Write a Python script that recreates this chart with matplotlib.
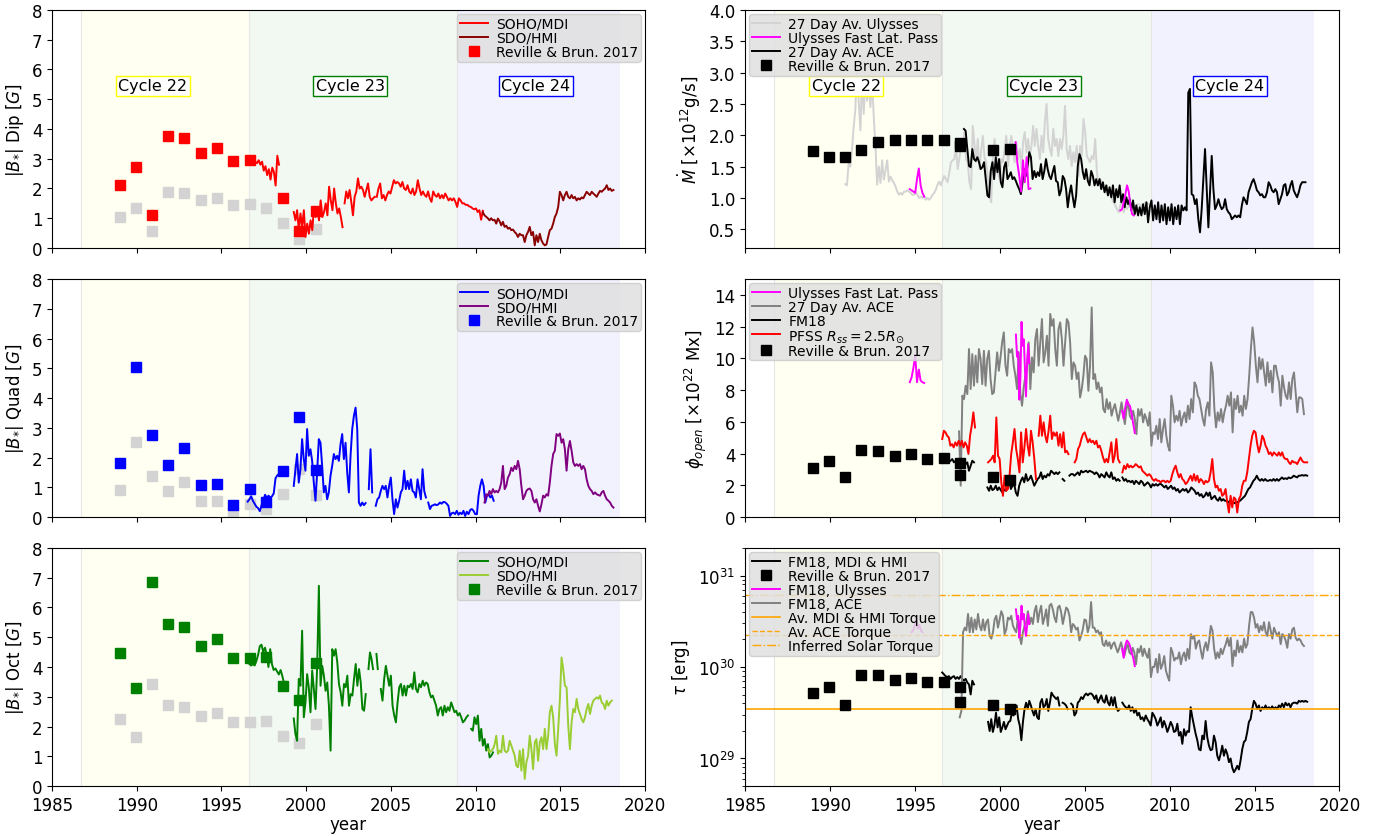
import numpy as np
import matplotlib.pyplot as plt

# ---- shared -------------------------------------------------------------
CYCLE_EDGES = [1986.7, 1996.6, 2008.9, 2018.5]
CYCLE_NAMES = ['Cycle 22', 'Cycle 23', 'Cycle 24']
CYCLE_COLORS = ['yellow', 'green', 'blue']
CYCLE_LABEL_X = [1990.95, 2002.6, 2013.55]

nan = np.nan

# Reville & Brun 2017 epochs
RB_YEARS_LEFT = [1989.0, 1989.95, 1990.9, 1991.85, 1992.8, 1993.8, 1994.75,
                 1995.7, 1996.7, 1997.65, 1998.65, 1999.6, 2000.6]
RB_YEARS_RIGHT = [1989.0, 1989.95, 1990.9, 1991.85, 1992.8, 1993.8, 1994.75,
                  1995.7, 1996.7, 1997.65, 1997.65, 1999.6, 2000.6]

# ---- dipole -------------------------------------------------------------
DIP_RB = [2.11, 2.71, 1.11, 3.76, 3.69, 3.20, 3.37, 2.91, 2.95, nan, 1.67, 0.58, 1.23]
DIP_RB_GREY = [1.05, 1.36, 0.57, 1.87, 1.84, 1.61, 1.68, 1.46, 1.47, 1.33, 0.84, 0.30, 0.63]
DIP_MDI = [
    (1996.5, 1998.4, [3.05, 3.0, 2.95, 3.0, 3.05, 2.9, 2.85, 2.95, 2.8, 2.9, 2.6, 2.75,
                      2.45, 2.65, 2.3, 2.7, 2.55, 2.1, 3.1, 2.8]),
    (1999.27, 2002.15, [1.21, 0.93, 1.27, 0.6, 1.16, 0.71, 1.27, 0.37, 0.82, 0.48, 0.93, 0.6,
                        1.33, 1.04, 1.38, 0.93, 1.6, 1.04, 1.21, 1.5, 1.1, 2.06, 1.6, 1.27,
                        2.0, 1.5, 1.16, 1.33, 1.04, 0.7]),
    (2002.27, 2004.05, [1.5, 1.9, 1.67, 1.95, 1.55, 1.1, 1.72, 1.9, 2.34, 2.0, 2.06, 1.95,
                        1.72, 1.95, 2.17, 1.72, 1.6, 1.67, 1.72]),
    (2004.17, 2010.43, [1.72, 2.0, 2.17, 1.67, 1.78, 1.6, 1.78, 1.9, 1.83, 2.06, 2.28, 2.17,
                        2.22, 2.17, 2.06, 2.22, 2.0, 1.95, 2.11, 1.9, 1.83, 2.0, 1.78, 1.9,
                        2.28, 2.0, 1.78, 1.9, 1.78, 1.72, 1.9, 1.67, 1.55, 1.9, 1.78, 1.72,
                        1.83, 1.67, 1.78, 1.67, 1.83, 1.72, 1.6, 1.67, 1.6, 1.67, 1.55, 1.38,
                        1.67, 1.6, 1.5, 1.5, 1.45, 1.45, 1.4, 1.38, 1.33, 1.3, 1.33, 1.21,
                        1.27, 0.95, 1.25]),
]
DIP_HMI = [
    (2010.43, 2018.14, [1.2, 1.1, 1.05, 1.0, 0.93, 1.0, 0.93, 0.95, 0.82, 0.99, 0.9, 0.76,
                        0.88, 0.71, 0.75, 0.65, 0.68, 0.6, 0.62, 0.54, 0.48, 0.37, 0.48, 0.43,
                        0.43, 0.2, 0.43, 0.54, 0.71, 0.43, 0.54, 0.09, 0.43, 0.2, 0.48, 0.26,
                        0.15, 0.09, 0.12, 0.37, 0.6, 0.65, 0.82, 1.04, 1.16, 1.38, 1.89, 1.78,
                        1.6, 1.78, 1.89, 1.72, 1.67, 1.78, 1.67, 1.72, 1.6, 1.67, 1.63, 1.7,
                        1.67, 1.78, 1.89, 1.83, 1.78, 1.89, 1.83, 1.78, 1.72, 1.83, 1.92, 1.89,
                        1.95, 2.0, 2.11, 1.95, 2.0, 1.92, 1.95]),
]

# ---- quadrupole ---------------------------------------------------------
QUAD_RB = [1.82, 5.06, 2.76, 1.76, 2.33, 1.09, 1.10, 0.39, 0.94, 0.52, 1.55, 3.37, 1.57]
QUAD_RB_GREY = [0.91, 2.53, 1.37, 0.89, 1.17, 0.54, 0.54, 0.17, 0.44, 0.28, 0.78, 1.60, 0.75]
QUAD_MDI = [
    (1996.55, 1998.5, [0.52, 0.6, 0.7, 0.55, 0.45, 0.35, 0.3, 0.2, 0.4, 0.55, 0.75, 0.65,
                       0.72, 0.65, 0.7, 0.8, 1.3, 1.4, 1.45, 1.5]),
    (1999.27, 2003.51, [1.05, 1.6, 2.12, 1.16, 1.61, 2.62, 1.95, 1.56, 2.96, 2.06, 2.28, 1.89,
                        1.16, 0.55, 1.5, 2.62, 2.5, 1.72, 0.83, 1.05, 0.6, 0.83, 1.39, 1.72,
                        2.12, 1.95, 2.06, 1.89, 2.45, 2.79, 1.95, 2.5, 1.5, 0.83, 2.06, 2.96,
                        3.4, 3.68, 2.96, 0.49, 0.38, 0.49, 0.4, 0.47]),
    (2003.7, 2003.9, [0.94, 2.28, 0.83]),
    (2004.11, 2007.07, [0.38, 0.6, 0.66, 0.88, 1.05, 0.94, 1.05, 0.66, 1.05, 1.33, 0.6, 0.1,
                        0.6, 0.32, 0.55, 0.83, 0.94, 1.56, 0.94, 1.22, 0.94, 1.27, 0.88, 0.83,
                        0.66, 1.27, 0.94, 0.6, 1.61, 0.88, 0.66]),
    (2007.21, 2011.07, [0.49, 0.27, 0.38, 0.4, 0.43, 0.4, 0.43, 0.49, 0.45, 0.51, 0.5, 0.45,
                        0.38, 0.04, 0.13, 0.15, 0.1, 0.21, 0.08, 0.15, 0.1, 0.21, 0.04, 0.18,
                        0.1, 0.24, 0.27, 0.21, 0.1, 0.1, 0.72, 1.05, 1.27, 1.05, 0.49, 0.72,
                        0.77, 0.66, 0.72, 0.55]),
]
QUAD_HMI = [
    (2010.53, 2018.14, [0.49, 0.77, 0.72, 0.88, 0.77, 0.94, 0.83, 0.88, 0.83, 0.94, 1.16, 1.72,
                        0.94, 1.05, 1.33, 1.44, 1.66, 1.55, 1.72, 1.61, 1.89, 1.61, 1.05, 0.6,
                        0.72, 0.88, 0.94, 0.96, 0.88, 0.6, 0.49, 0.6, 0.38, 0.19, 0.43, 0.72,
                        0.66, 0.77, 0.72, 1.16, 1.72, 2.12, 2.23, 2.79, 2.73, 2.81, 2.5, 2.62,
                        2.28, 1.56, 2.28, 2.56, 2.23, 1.84, 1.72, 1.78, 1.72, 1.78, 1.61, 1.72,
                        1.61, 1.27, 1.05, 0.94, 0.88, 0.77, 0.83, 0.77, 0.74, 0.72, 0.83, 0.88,
                        0.72, 0.6, 0.55, 0.49, 0.38, 0.32]),
]

# ---- octupole -----------------------------------------------------------
OCT_RB = [4.48, 3.28, 6.86, 5.46, 5.34, 4.69, 4.94, 4.29, 4.29, 4.34, 3.37, 2.90, 4.13]
OCT_RB_GREY = [2.24, 1.64, 3.42, 2.74, 2.67, 2.34, 2.47, 2.15, 2.15, 2.18, 1.67, 1.46, 2.07]
OCT_MDI = [
    (1996.55, 1998.8, [4.2, 4.1, 4.05, 4.1, 4.05, 4.2, 4.4, 4.7, 4.75, 4.5, 4.65, 4.4, 4.0,
                       4.6, 4.1, 3.9, 3.95, 3.85, 3.75, 3.9, 3.7, 3.45, 3.5]),
    (1999.27, 2003.52, [2.27, 1.75, 1.52, 3.6, 3.37, 5.22, 2.31, 2.81, 3.76, 3.3, 2.48, 3.88,
                        3.26, 2.59, 4.04, 6.73, 3.37, 4.04, 3.71, 3.2, 3.48, 2.7, 1.19, 4.6,
                        4.38, 4.6, 4.16, 3.43, 3.15, 2.7, 3.43, 3.32, 3.71, 2.7, 3.09, 3.04,
                        3.6, 4.1, 3.37, 3.93, 3.48, 2.59, 2.53, 3.09]),
    (2003.68, 2003.95, [3.93, 4.49, 4.27, 3.93]),
    (2004.15, 2004.23, [4.44, 3.93]),
    (2004.41, 2009.55, [3.26, 2.87, 3.6, 4.04, 3.71, 3.37, 3.71, 2.7, 2.37, 2.14, 2.81, 3.32,
                        3.43, 3.04, 3.37, 3.04, 3.37, 3.32, 3.43, 3.26, 3.82, 3.26, 3.15, 3.43,
                        3.32, 3.54, 3.37, 3.48, 3.43, 3.15, 2.98, 3.04, 2.87, 2.7, 2.37, 2.59,
                        2.65, 2.37, 2.7, 2.48, 2.65, 2.53, 2.81, 2.65, 2.48, 2.53, 2.37, 2.45,
                        2.31, 2.14, 2.2, 2.3, 2.37]),
    (2009.74, 2011.03, [1.92, 1.86, 2.31, 2.08, 2.37, 1.52, 1.92, 1.36, 1.58, 1.19, 1.41,
                        0.96, 1.02, 1.13]),
]
OCT_HMI = [
    (2010.73, 2018.04, [1.24, 1.13, 1.19, 1.24, 1.4, 1.69, 1.08, 1.19, 1.13, 1.69, 1.19, 1.13,
                        1.19, 1.52, 1.36, 1.19, 1.02, 0.68, 0.63, 1.19, 0.52, 1.24, 0.24, 0.8,
                        1.02, 1.69, 1.24, 0.57, 1.47, 1.58, 0.85, 1.47, 1.64, 1.24, 1.92, 1.24,
                        1.69, 2.48, 2.7, 2.31, 1.41, 1.02, 1.9, 2.9, 4.32, 3.93, 3.37, 3.32,
                        2.03, 1.24, 2.14, 2.59, 2.48, 2.93, 2.59, 2.42, 2.25, 2.14, 2.31, 2.59,
                        2.76, 2.42, 2.7, 2.87, 2.93, 2.98, 2.93, 3.04, 2.81, 2.76, 2.59, 2.87,
                        2.7, 2.81, 2.87]),
]

# ---- mass loss rate [1e12 g/s] -----------------------------------------
MDOT_RB = [1.75, 1.65, 1.66, 1.76, 1.89, 1.93, 1.93, 1.93, 1.92, 1.83, 1.88, 1.76, 1.78]
MDOT_ULYSSES = [
    (1990.9, 2008.78, [1.22, 1.2, 1.55, 1.5, 1.76, 2.13, 2.4, 3.13, 2.55, 2.08, 2.92, 2.34,
                       2.95, 2.55, 2.82, 2.45, 2.87, 2.29, 1.82, 1.21, 1.5, 1.24, 1.6, 1.29,
                       1.45, 1.6, 1.26, 1.34, 1.28, 1.24, 1.18, 1.1, 1.05, 1.08, 1.05, 1.1,
                       1.1, 1.12, 1.1, 1.08, 1.05, 1.05, 1.08, 1.05, 1.0, 1.02, 1.0, 1.03,
                       0.97, 1.0, 0.97, 1.0, 1.05, 1.08, 1.13, 1.21, 1.26,
                       1.2, 1.28, 1.35, 1.3, 1.25, 1.4, 1.57, 1.6, 1.62, 1.81, 1.46, 1.62,
                       1.83, 1.78, 2.05, 1.62, 1.57, 1.25, 1.14, 2.15, 1.86, 1.57, 1.94, 1.46,
                       1.75, 1.99, 1.65, 1.57, 1.30, 1.04, 0.93, 1.67, 1.94, 1.73, 1.41, 1.30,
                       1.62, 1.57, 1.78, 1.99, 1.51, 1.83, 1.99, 1.78, 1.57, 1.89, 1.62, 1.78,
                       1.46, 1.89, 2.05, 1.73, 1.94, 1.67, 1.83, 2.15, 1.83, 2.1, 1.83, 1.62,
                       1.99, 1.73, 2.21, 2.50, 1.94, 1.78, 1.67, 2.1, 1.83, 1.94, 1.67, 1.94,
                       1.78, 1.99, 2.47, 1.78, 1.62, 1.83, 1.51, 1.73, 1.57, 1.83, 1.35, 1.83,
                       1.67, 2.26, 2.05, 1.67, 1.62, 1.57, 1.67, 1.62, 1.94, 1.41, 1.2, 1.3,
                       1.25, 1.14, 1.09, 1.2, 1.04, 1.06, 0.98, 0.93, 0.88, 0.82, 0.77, 0.88,
                       0.98, 0.77, 0.88, 0.82, 0.88, 0.93, 0.9, 0.85, 0.88, 0.9, 0.9, 0.88,
                       0.88, 0.9, 0.93, 0.9, 0.9]),
]
MDOT_FAST_LAT = [
    (1994.7, 1995.55, [1.14, 1.12, 1.10, 1.08, 1.3, 1.47, 1.2, 1.08, 1.02]),
    (2000.93, 2001.8, [1.89, 1.55, 1.35, 1.1, 1.6, 1.25, 1.65, 1.14, 1.15]),
    (2007.1, 2007.89, [0.8, 0.82, 0.93, 1.06, 1.2, 1.1, 0.88, 0.74, 0.72]),
]
MDOT_ACE = [
    (1997.89, 2018.0, [2.10, 2.07, 1.78, 1.51, 1.49, 1.78, 1.62, 1.59, 1.65, 1.57,
                       1.46, 1.49, 1.57, 1.30, 1.04, 1.01, 1.43, 1.57, 1.30, 1.65,
                       1.41, 1.62, 1.25, 1.17, 1.49, 1.57, 1.30, 1.35, 1.41, 1.30,
                       1.33, 1.27, 1.20, 1.14, 1.06, 1.25, 1.46, 1.35, 1.51, 1.73,
                       1.65, 1.30, 1.43, 1.33, 1.41, 1.35, 1.54, 1.30, 1.43, 1.62,
                       1.46, 1.35, 1.30, 1.41, 1.51, 1.27, 1.25, 1.04, 1.12, 1.35,
                       1.30, 1.14, 0.85, 1.06, 1.20, 1.01, 0.85, 1.04, 1.51, 1.70,
                       1.62, 1.41, 1.30, 1.46, 1.27, 1.20, 1.43, 1.35, 1.20, 1.30,
                       1.20, 1.30, 1.14, 1.25, 1.09, 1.20, 1.04, 1.17, 1.01, 1.20,
                       0.93, 1.14, 1.01, 1.20, 0.93, 1.06, 0.85, 1.01, 0.90, 0.98,
                       0.80, 0.96, 0.74, 0.88, 0.72, 0.85, 0.72, 0.90, 0.74, 0.93,
                       0.61, 0.85, 0.96, 0.64, 0.88, 0.66, 0.93, 0.61, 0.88, 0.64,
                       0.90, 0.58, 0.85, 0.64, 0.90, 0.58, 0.85, 0.66, 0.88, 0.58,
                       0.88, 0.80, 0.85, 0.80, 2.68, 2.74, 1.06, 1.04, 0.90, 0.98,
                       0.66, 0.45, 0.82, 1.30, 1.78, 1.14, 0.53, 1.09, 1.67, 1.14,
                       0.82, 0.88, 0.98, 0.88, 0.82, 0.85, 0.98, 0.82, 0.77, 0.74,
                       0.66, 0.69, 0.72, 0.69, 0.72, 0.69, 0.88, 1.01, 0.96, 0.90,
                       1.09, 1.17, 1.25, 1.30, 1.22, 1.12, 1.09, 1.04, 1.06, 1.01,
                       1.01, 1.09, 1.25, 1.20, 1.12, 1.09, 1.14, 1.09, 0.90, 0.98,
                       1.06, 1.20, 1.22, 1.04, 1.09, 1.20, 1.27, 1.12, 1.06, 1.01,
                       1.09, 1.20, 1.25, 1.25, 1.25]),
]

# ---- open flux [1e22 Mx] ------------------------------------------------
PHI_RB = [3.10, 3.52, 2.50, 4.25, 4.19, 3.88, 4.00, 3.67, 3.71, 3.44, 2.65, 2.50, 2.33]
PHI_FAST_LAT = [
    (1994.7, 1995.55, [8.5, 8.8, 9.4, 10.2, 8.5, 9.3, 8.6, 8.5, 8.45]),
    (2000.95, 2001.74, [11.5, 10.1, 10.4, 7.4, 8.7, 12.3, 10.8, 11.2, 9.5, 7.6, 9.6, 10.9, 9.7]),
    (2007.2, 2007.95, [6.7, 6.2, 6.9, 7.4, 7.1, 7.0, 6.5, 5.9, 5.3]),
]
PHI_ACE = [
    (1997.6, 2017.91, [5.4, 1.98, 7.65, 7.44, 8.28, 7.75, 10.59, 8.07, 10.27, 8.28, 10.17, 8.49,
                       10.59, 9.96, 8.38, 10.48, 8.28, 9.96, 10.48, 8.7, 7.75, 7.86, 9.12, 10.38,
                       9.22, 10.06, 11.01, 11.64, 9.54, 8.91, 10.59, 10.38, 10.59, 9.54, 8.91,
                       8.07, 10.38, 7.75, 7.02, 8.17, 8.91, 9.54, 11.01, 8.07, 10.06, 9.12,
                       11.22, 11.85, 9.54, 11.01, 12.48, 9.75, 10.38, 11.43, 9.54, 12.8, 12.06,
                       12.48, 10.59, 9.54, 11.85, 12.27, 11.22, 9.54, 11.01, 12.48, 12.27,
                       11.01, 8.7, 9.75, 9.54, 8.7, 9.12, 7.54, 8.07, 8.91, 10.17, 9.96, 7.96,
                       9.54, 13.21, 8.7, 9.01, 8.07, 8.49, 7.86, 8.17, 6.81, 6.6, 7.44, 6.81,
                       7.23, 6.39, 6.81, 7.12, 6.6, 6.07, 6.6, 7.23, 6.49, 5.86, 6.81, 7.23,
                       6.39, 6.18, 6.7, 6.18, 5.23, 6.81, 6.39, 6.81, 5.97, 6.49, 6.18, 5.76,
                       6.6, 4.5, 5.34, 5.23, 5.76, 4.92, 6.18, 4.71, 5.55, 6.18, 5.13, 4.5,
                       4.18, 7.65, 7.02, 5.97, 6.39, 6.07, 6.7, 5.76, 6.28, 6.6, 5.97, 7.02,
                       6.18, 7.44, 6.6, 8.49, 8.28, 7.65, 7.44, 6.81, 6.18, 5.76, 6.81, 7.23,
                       6.39, 9.75, 9.12, 6.81, 5.65, 6.6, 6.07, 6.81, 5.97, 6.6, 7.02, 7.65,
                       7.02, 7.86, 5.34, 7.44, 6.81, 7.65, 6.6, 7.02, 6.39, 7.65, 6.81, 7.44,
                       8.91, 10.59, 11.95, 11.01, 9.54, 8.49, 10.06, 9.33, 9.96, 9.12, 8.28,
                       9.75, 8.49, 9.22, 7.86, 9.54, 9.54, 8.91, 8.49, 7.02, 8.91, 8.17, 7.65,
                       7.44, 8.49, 7.44, 8.7, 9.12, 7.86, 6.6, 7.54, 7.54, 7.44, 6.49]),
]
PHI_FM18 = [
    (1996.61, 1998.48, [3.66, 3.66, 3.55, 3.6, 3.49, 3.55, 3.66, 3.45, 3.55, 3.34, 3.45, 3.34,
                        3.49, 3.34, 3.34, 3.45, 2.92, 3.24, 3.55, 3.45]),
    (1999.27, 2003.51, [1.87, 1.66, 1.98, 1.7, 1.77, 1.98, 1.7, 1.87, 1.7, 1.55, 1.75, 1.66,
                        1.87, 2.29, 1.77, 1.98, 2.08, 1.55, 1.34, 1.98, 2.29, 2.5, 2.19, 2.71,
                        2.29, 2.4, 2.61, 2.29, 1.98, 2.19, 2.4, 2.5, 2.82, 2.4, 2.61, 2.5,
                        2.71, 2.61, 2.92, 2.82, 2.71, 2.82, 2.71, 2.82]),
    (2003.7, 2003.8, [2.4, 2.29]),
    (2004.1, 2007.06, [2.61, 2.71, 2.71, 2.61, 2.71, 2.82, 2.65, 2.92, 2.82, 2.87, 2.92, 2.82,
                       2.92, 2.87, 2.82, 2.71, 2.82, 2.71, 2.5, 2.71, 2.61, 2.5, 2.82, 2.61,
                       2.5, 2.82, 2.4, 2.5, 2.29, 2.4, 2.29]),
    (2007.22, 2018.1, [2.5, 2.29, 2.4, 2.23, 2.29, 2.19, 2.29, 2.08, 2.29, 2.19, 2.08, 2.29,
                       2.19, 1.98, 2.08, 2.19, 2.08, 1.87, 2.08, 1.98, 2.08, 1.98, 2.08, 2.08,
                       1.98, 1.87, 1.98, 1.77, 1.87, 1.98, 1.77, 1.87, 1.66, 1.77, 1.55, 1.66,
                       1.77, 1.66, 1.77, 1.55, 1.66, 1.87, 1.77, 1.66, 1.45, 1.55, 1.34, 1.45,
                       1.24, 1.34, 1.55, 1.34, 1.55, 1.13, 1.24, 1.34, 1.13, 1.03, 1.24, 1.03,
                       1.13, 1.03, 1.03, 0.92, 1.03, 0.92, 0.92, 0.88, 0.92, 0.96, 1.03, 1.13,
                       1.24, 1.34, 1.55, 1.77, 1.87, 2.08, 2.29, 2.4, 2.61, 2.4, 2.29, 2.4,
                       2.29, 2.4, 2.29, 2.29, 2.35, 2.29, 2.4, 2.29, 2.4, 2.29, 2.4, 2.5, 2.4,
                       2.45, 2.4, 2.5, 2.45, 2.5, 2.61, 2.55, 2.5, 2.61, 2.61, 2.65, 2.61,
                       2.65, 2.61]),
]
PHI_PFSS = [
    (1996.61, 1998.54, [4.92, 5.44, 5.34, 5.13, 5.02, 4.5, 4.6, 4.39, 4.71, 4.5, 4.81, 4.5,
                        4.81, 4.39, 4.71, 4.5, 3.98, 5.13, 5.76, 6.6, 5.65]),
    (1999.31, 2002.13, [3.45, 3.55, 3.66, 3.87, 3.45, 6.28, 3.87, 3.66, 2.19, 1.34, 2.61, 1.66,
                        1.77, 2.61, 3.97, 4.71, 5.55, 4.29, 3.66, 2.82, 5.34, 3.45, 4.39, 5.55,
                        4.5, 3.87, 5.44, 4.71, 3.66, 2.4]),
    (2002.29, 2004.04, [5.13, 6.39, 5.13, 5.97, 5.13, 4.71, 5.44, 6.39, 4.92, 5.34, 5.13, 5.34,
                        4.5, 5.23, 4.39, 5.34, 4.08, 4.18, 3.97]),
    (2004.41, 2007.06, [3.45, 3.66, 4.29, 4.5, 4.92, 5.23, 5.34, 5.02, 4.71, 4.92, 4.71, 4.81,
                        4.6, 4.81, 4.39, 4.5, 4.18, 3.76, 3.45, 3.66, 3.45, 4.08, 4.71, 3.45,
                        3.87, 4.92, 3.66, 3.45]),
    (2007.22, 2018.1, [2.82, 3.24, 3.03, 3.34, 3.13, 3.24, 3.13, 3.2, 3.34, 3.24, 3.13, 3.2,
                       2.92, 2.82, 2.71, 2.61, 2.71, 2.61, 2.4, 2.29, 2.4, 2.29, 2.29, 2.19,
                       2.29, 2.29, 2.19, 2.29, 2.19, 2.29, 2.71, 3.03, 3.24, 2.82, 2.5, 2.71,
                       2.4, 2.29, 2.08, 2.19, 2.4, 2.61, 2.29, 2.71, 2.29, 2.61, 2.19, 2.4,
                       2.29, 2.08, 2.29, 2.19, 2.29, 2.82, 3.66, 2.4, 1.87, 1.98, 1.66, 1.77,
                       1.34, 1.45, 1.77, 0.92, 0.29, 1.34, 0.61, 1.24, 1.13, 0.29, 1.13, 1.34,
                       1.98, 2.29, 2.29, 2.82, 3.66, 4.5, 5.13, 5.44, 5.34, 4.6, 4.08, 4.5,
                       5.13, 4.92, 4.5, 4.29, 3.97, 4.08, 3.87, 4.08, 3.97, 3.87, 4.08, 3.87,
                       4.08, 3.76, 3.66, 3.66, 3.45, 3.34, 3.55, 3.45, 3.45, 3.34, 3.55, 3.76,
                       3.55, 3.45, 3.45, 3.45]),
]

# ---- torque, stored as log10(tau / erg) ---------------------------------
TAU_RB = [5.2e29, 6.0e29, 3.8e29, 8.1e29, 8.1e29, 7.3e29, 7.6e29, 6.8e29, 6.9e29,
          6.1e29, 4.1e29, 3.85e29, 3.5e29]
TAU_AV_MDI_HMI = 3.5e29
TAU_AV_ACE = 2.25e30
TAU_INFERRED = 6.2e30
LOGTAU_FAST_LAT = [
    (1994.8, 1995.45, [30.38, 30.40, 30.45, 30.53, 30.42, 30.46, 30.40, 30.38]),
    (2000.95, 2001.74, [30.63, 30.52, 30.56, 30.32, 30.45, 30.67, 30.52, 30.58, 30.43,
                        30.34, 30.45, 30.58, 30.47]),
    (2007.2, 2007.95, [30.20, 30.10, 30.23, 30.29, 30.27, 30.23, 30.16, 30.10, 30.01]),
]
LOGTAU_ACE = [
    (1997.64, 2017.91, [29.45, 29.52, 30.38, 30.43, 30.40, 30.58, 30.38, 30.54, 30.38, 30.52,
                        30.41, 30.58, 30.45, 30.40, 30.52, 30.40, 30.49, 30.52, 30.34, 30.31,
                        30.38, 30.52, 30.56, 30.43, 30.52, 30.61, 30.56, 30.36, 30.41, 30.54,
                        30.52, 30.56, 30.45, 30.41, 30.38, 30.54, 30.34, 30.25, 30.38, 30.45,
                        30.49, 30.61, 30.47, 30.54, 30.47, 30.61, 30.67, 30.49, 30.60, 30.67,
                        30.47, 30.54, 30.63, 30.45, 30.67, 30.69, 30.63, 30.54, 30.49, 30.65,
                        30.67, 30.60, 30.47, 30.56, 30.65, 30.63, 30.56, 30.38, 30.47, 30.45,
                        30.41, 30.43, 30.29, 30.34, 30.41, 30.52, 30.51, 30.38, 30.45, 30.71,
                        30.43, 30.43, 30.38, 30.40, 30.36, 30.38, 30.25, 30.23, 30.29, 30.23,
                        30.27, 30.20, 30.25, 30.27, 30.21, 30.16, 30.21, 30.27, 30.20, 30.12,
                        30.20, 30.25, 30.16, 30.14, 30.21, 30.16, 30.03, 30.20, 30.16, 30.23,
                        30.12, 30.20, 30.14, 30.10, 30.20, 29.89, 30.00, 30.00, 30.09, 29.94,
                        30.14, 29.98, 30.03, 30.12, 29.96, 29.90, 29.85, 30.21, 30.16, 30.07,
                        30.10, 30.09, 30.16, 30.03, 30.12, 30.16, 30.07, 30.20, 30.09, 30.36,
                        30.31, 30.34, 30.20, 30.27, 30.29, 30.18, 30.09, 30.21, 30.27, 30.18,
                        30.29, 30.45, 30.40, 30.20, 30.09, 30.16, 30.10, 30.20, 30.14, 30.20,
                        30.25, 30.32, 30.23, 30.32, 30.01, 30.18, 30.12, 30.29, 30.16, 30.23,
                        30.16, 30.31, 30.21, 30.25, 30.45, 30.60, 30.60, 30.54, 30.43, 30.47,
                        30.38, 30.45, 30.40, 30.49, 30.38, 30.34, 30.49, 30.40, 30.31, 30.43,
                        30.38, 30.34, 30.38, 30.25, 30.36, 30.34, 30.29, 30.21, 30.36, 30.31,
                        30.41, 30.43, 30.32, 30.29, 30.31, 30.29, 30.25, 30.23]),
]
LOGTAU_FM18 = [
    (1996.61, 1998.48, [29.94, 29.92, 29.90, 29.89, 29.90, 29.87, 29.89, 29.90, 29.87, 29.89,
                        29.87, 29.90, 29.87, 29.85, 29.87, 29.83, 29.81, 29.70, 29.85, 29.81]),
    (1999.31, 2003.51, [29.40, 29.30, 29.43, 29.29, 29.36, 29.50, 29.34, 29.45, 29.29, 29.34,
                        29.40, 29.32, 29.36, 29.40, 29.41, 29.50, 29.47, 29.50, 29.58, 29.43,
                        29.36, 29.20, 29.40, 29.54, 29.61, 29.54, 29.63, 29.58, 29.52, 29.47,
                        29.54, 29.45, 29.43, 29.61, 29.65, 29.56, 29.58, 29.65, 29.52, 29.61,
                        29.72, 29.69, 29.67, 29.65, 29.67, 29.58]),
    (2003.7, 2004.0, [29.61, 29.60, 29.58, 29.54]),
    (2004.2, 2007.06, [29.60, 29.58, 29.47, 29.50, 29.61, 29.63, 29.67, 29.65, 29.69, 29.71,
                       29.69, 29.71, 29.71, 29.69, 29.65, 29.69, 29.61, 29.65, 29.69, 29.63,
                       29.61, 29.69, 29.61, 29.58, 29.67, 29.58, 29.67, 29.56, 29.52, 29.54]),
    (2007.22, 2018.1, [29.61, 29.58, 29.56, 29.54, 29.58, 29.52, 29.56, 29.50, 29.54, 29.47,
                       29.50, 29.43, 29.45, 29.41, 29.47, 29.43, 29.40, 29.36, 29.50, 29.47,
                       29.43, 29.36, 29.40, 29.45, 29.34, 29.41, 29.36, 29.29, 29.34, 29.40,
                       29.36, 29.29, 29.30, 29.38, 29.25, 29.29, 29.16, 29.32, 29.25, 29.30,
                       29.29, 29.56, 29.45, 29.36, 29.27, 29.20, 29.10, 29.09, 29.25, 29.21,
                       29.41, 29.23, 29.14, 29.09, 29.10, 29.25, 29.18, 29.03, 28.98, 29.05,
                       29.14, 29.03, 29.10, 29.05, 28.96, 29.00, 28.90, 28.85, 28.88, 28.92,
                       28.88, 28.98, 29.10, 29.18, 29.20, 29.29, 29.40, 29.43, 29.54, 29.63,
                       29.60, 29.54, 29.58, 29.52, 29.56, 29.54, 29.58, 29.54, 29.56, 29.54,
                       29.57, 29.54, 29.56, 29.54, 29.58, 29.56, 29.60, 29.56, 29.61, 29.58,
                       29.60, 29.56, 29.60, 29.61, 29.61, 29.60, 29.63, 29.62, 29.63, 29.62,
                       29.63, 29.62]),
]

LW = 1.4


def join_segments(parts, log=False):
    xs, ys = [], []
    for start, end, vals in parts:
        xs += list(np.linspace(start, end, len(vals))) + [np.nan]
        ys += list(vals) + [np.nan]
    ys = np.array(ys)
    if log:
        ys = 10 ** ys
    return np.array(xs), ys


def shade_cycles(ax, label_y=None):
    for i in range(3):
        ax.axvspan(CYCLE_EDGES[i], CYCLE_EDGES[i + 1], color=CYCLE_COLORS[i],
                   alpha=0.05, lw=0, zorder=0)
        ax.axvline(CYCLE_EDGES[i], color='0.9', lw=0.8, zorder=0)
        if label_y is not None:
            ax.text(CYCLE_LABEL_X[i], label_y, CYCLE_NAMES[i], ha='center',
                    va='center', fontsize=11.5,
                    bbox=dict(boxstyle='square,pad=0.15', facecolor='white',
                              edgecolor=CYCLE_COLORS[i]))


def style_axis(ax, show_x):
    ax.set_xlim(1985, 2020)
    ax.set_xticks(np.arange(1985, 2021, 5))
    ax.tick_params(direction='out', labelsize=12, top=False, right=False)
    if show_x:
        ax.set_xlabel('year', fontsize=12, labelpad=1)
    else:
        ax.tick_params(labelbottom=False)


def legend(ax, loc):
    ax.legend(loc=loc, fontsize=10, facecolor='0.88', edgecolor='0.8',
              framealpha=0.85, labelspacing=0.0, borderpad=0.2,
              handletextpad=0.6, borderaxespad=0.3)


def left_panel(ax, mdi, hmi, rb, rb_grey, c_mdi, c_hmi, ylabel, show_x, label_y=None):
    shade_cycles(ax, label_y)
    ax.plot(RB_YEARS_LEFT, rb_grey, 's', color='lightgray', ms=7, zorder=1)
    x, y = join_segments(mdi)
    ax.plot(x, y, color=c_mdi, lw=LW, label='SOHO/MDI')
    x, y = join_segments(hmi)
    ax.plot(x, y, color=c_hmi, lw=LW, label='SDO/HMI')
    ax.plot(RB_YEARS_LEFT, rb, 's', color=c_mdi, ms=7, zorder=3,
            label='Reville & Brun. 2017')
    ax.set_ylim(0, 8)
    ax.set_yticks(range(9))
    ax.set_ylabel(ylabel, fontsize=12)
    style_axis(ax, show_x)
    legend(ax, 'upper right')


fig = plt.figure(figsize=(13.79, 8.37), dpi=100)
rows = [0.7025, 0.381, 0.0597]
h = 0.2844
axL = [fig.add_axes([0.0377, r, 0.430, h]) for r in rows]
axR = [fig.add_axes([0.5403, r, 0.431, h]) for r in rows]

left_panel(axL[0], DIP_MDI, DIP_HMI, DIP_RB, DIP_RB_GREY, 'red', 'darkred',
           r'$|B_{*}|$ Dip $[G]$', False, label_y=5.45)
left_panel(axL[1], QUAD_MDI, QUAD_HMI, QUAD_RB, QUAD_RB_GREY, 'blue', 'purple',
           r'$|B_{*}|$ Quad $[G]$', False)
left_panel(axL[2], OCT_MDI, OCT_HMI, OCT_RB, OCT_RB_GREY, 'green', 'yellowgreen',
           r'$|B_{*}|$ Oct $[G]$', True)

# mass loss rate
ax = axR[0]
shade_cycles(ax, label_y=2.79)
x, y = join_segments(MDOT_ULYSSES)
ax.plot(x, y, color='lightgray', lw=LW, label='27 Day Av. Ulysses')
x, y = join_segments(MDOT_FAST_LAT)
ax.plot(x, y, color='magenta', lw=LW, zorder=2.5, label='Ulysses Fast Lat. Pass')
x, y = join_segments(MDOT_ACE)
ax.plot(x, y, color='black', lw=LW, label='27 Day Av. ACE')
ax.plot(RB_YEARS_RIGHT, MDOT_RB, 's', color='black', ms=7, zorder=3,
        label='Reville & Brun. 2017')
ax.set_ylim(0.2, 4.0)
ax.set_yticks(np.arange(0.5, 4.01, 0.5))
ax.set_ylabel(r'$\dot{M}$ [$\times10^{12}$g/s]', fontsize=12)
style_axis(ax, False)
legend(ax, 'upper left')

# open flux
ax = axR[1]
shade_cycles(ax)
x, y = join_segments(PHI_FAST_LAT)
ax.plot(x, y, color='magenta', lw=LW, zorder=2.5, label='Ulysses Fast Lat. Pass')
x, y = join_segments(PHI_ACE)
ax.plot(x, y, color='gray', lw=LW, label='27 Day Av. ACE')
x, y = join_segments(PHI_FM18)
ax.plot(x, y, color='black', lw=LW, label='FM18')
x, y = join_segments(PHI_PFSS)
ax.plot(x, y, color='red', lw=LW, label=r'PFSS $R_{ss}=2.5R_{\odot}$')
ax.plot(RB_YEARS_RIGHT, PHI_RB, 's', color='black', ms=7, zorder=3,
        label='Reville & Brun. 2017')
ax.set_ylim(0, 15)
ax.set_yticks(range(0, 15, 2))
ax.set_ylabel(r'$\phi_{open}$ [$\times10^{22}$ Mx]', fontsize=12)
style_axis(ax, False)
legend(ax, 'upper left')

# torque
ax = axR[2]
shade_cycles(ax)
x, y = join_segments(LOGTAU_FM18, log=True)
ax.plot(x, y, color='black', lw=LW, label='FM18, MDI & HMI')
ax.plot(RB_YEARS_RIGHT, TAU_RB, 's', color='black', ms=7, zorder=3,
        label='Reville & Brun. 2017')
x, y = join_segments(LOGTAU_FAST_LAT, log=True)
ax.plot(x, y, color='magenta', lw=LW, zorder=2.5, label='FM18, Ulysses')
x, y = join_segments(LOGTAU_ACE, log=True)
ax.plot(x, y, color='gray', lw=LW, label='FM18, ACE')
ax.axhline(TAU_AV_MDI_HMI, color='orange', lw=1.2, label='Av. MDI & HMI Torque')
ax.axhline(TAU_AV_ACE, color='orange', lw=1.0, ls='--', label='Av. ACE Torque')
ax.axhline(TAU_INFERRED, color='orange', lw=1.0, ls='-.', label='Inferred Solar Torque')
ax.set_yscale('log')
ax.set_ylim(5e28, 2e31)
ax.set_ylabel(r'$\tau$ [erg]', fontsize=12)
style_axis(ax, True)
legend(ax, 'upper left')

fig.savefig('out.png', dpi=100)
